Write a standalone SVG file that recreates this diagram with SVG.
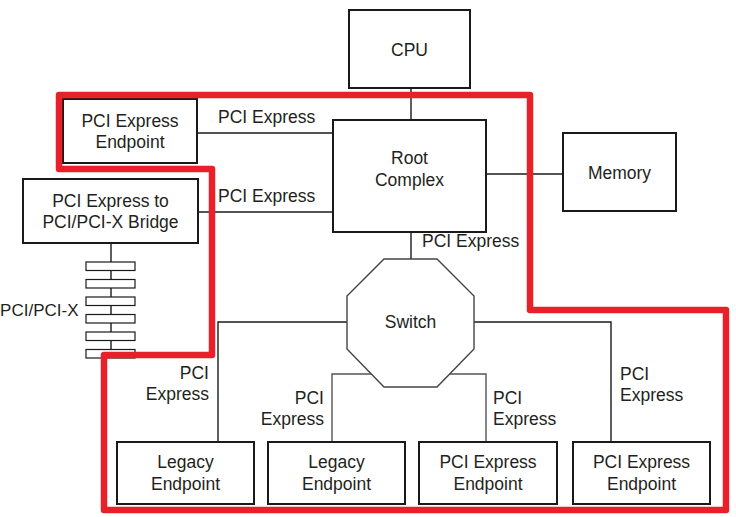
<svg xmlns="http://www.w3.org/2000/svg" width="736" height="517" viewBox="0 0 736 517">
<style>
.box{fill:#fff;stroke:#1a1a1a;stroke-width:2}
.ln{fill:none;stroke:#1a1a1a;stroke-width:1.4}
.gl{fill:none;stroke:#555;stroke-width:1.4}
text{font-family:"Liberation Sans",Arial,sans-serif;font-size:17.5px;fill:#231f20}
.c{text-anchor:middle}
.e{text-anchor:end}
.bus{fill:#fff;stroke:#1a1a1a;stroke-width:1.2}
</style>
<rect width="736" height="517" fill="#fff"/>
<g id="connectors">
<line class="ln" x1="411" y1="88" x2="411" y2="120"/>
<line class="ln" x1="197" y1="133" x2="333" y2="133"/>
<line class="ln" x1="198" y1="212" x2="333" y2="212"/>
<line class="ln" x1="486" y1="174" x2="563" y2="174"/>
<line class="ln" x1="411" y1="232" x2="411" y2="259"/>
<polyline class="ln" points="347,322 218,322 218,442"/>
<polyline class="ln" points="474,322 611,322 611,442"/>
<polyline class="gl" points="371,374 332,374 332,442"/>
<polyline class="gl" points="450,374 486,374 486,442"/>
<line class="ln" x1="111" y1="243" x2="111" y2="358"/>
<text x="218" y="123">PCI Express</text>
<text x="218" y="202">PCI Express</text>
<text x="422" y="247">PCI Express</text>
<text class="e" x="209" y="379">PCI</text>
<text class="e" x="209" y="400">Express</text>
<text class="e" x="324" y="404">PCI</text>
<text class="e" x="324" y="425">Express</text>
<text x="493" y="404">PCI</text>
<text x="493" y="425">Express</text>
<text x="620" y="380">PCI</text>
<text x="620" y="401">Express</text>
</g>
<g id="bus">
<rect class="bus" x="86" y="262" width="49" height="8.5"/>
<rect class="bus" x="86" y="279.5" width="49" height="8.5"/>
<rect class="bus" x="86" y="297" width="49" height="8.5"/>
<rect class="bus" x="86" y="314.5" width="49" height="8.5"/>
<rect class="bus" x="86" y="332" width="49" height="8.5"/>
<rect class="bus" x="86" y="349.5" width="49" height="8.5"/>
<text class="e" x="78.5" y="316" style="font-size:17px">PCI/PCI-X</text>
</g>
<g id="cpu"><rect class="box" x="349" y="10" width="121" height="78"/><text class="c" x="409.5" y="56">CPU</text></g>
<g id="root-complex"><rect class="box" x="333" y="120" width="153" height="112"/><text class="c" x="409.5" y="164">Root</text><text class="c" x="409.5" y="186">Complex</text></g>
<g id="memory"><rect class="box" x="563" y="133" width="113" height="78"/><text class="c" x="619.5" y="179">Memory</text></g>
<g id="endpoint-top"><rect class="box" x="63" y="99" width="134" height="64"/><text class="c" x="130" y="127">PCI Express</text><text class="c" x="130" y="148">Endpoint</text></g>
<g id="bridge"><rect class="box" x="23" y="179" width="175" height="64"/><text class="c" x="110.5" y="207">PCI Express to</text><text class="c" x="110.5" y="228">PCI/PCI-X Bridge</text></g>
<g id="switch"><polygon fill="#fff" stroke="#444" stroke-width="1.4" points="384,259 437,259 474,296 474,349 437,387 384,387 347,349 347,296"/><text class="c" x="410.5" y="328">Switch</text></g>
<g id="legacy1"><rect class="box" x="117" y="442" width="137" height="62"/><text class="c" x="185.5" y="468">Legacy</text><text class="c" x="185.5" y="490">Endpoint</text></g>
<g id="legacy2"><rect class="box" x="268" y="442" width="137" height="62"/><text class="c" x="336.5" y="468">Legacy</text><text class="c" x="336.5" y="490">Endpoint</text></g>
<g id="endpoint3"><rect class="box" x="419" y="442" width="138" height="62"/><text class="c" x="488" y="468">PCI Express</text><text class="c" x="488" y="490">Endpoint</text></g>
<g id="endpoint4"><rect class="box" x="573" y="442" width="137" height="62"/><text class="c" x="641.5" y="468">PCI Express</text><text class="c" x="641.5" y="490">Endpoint</text></g>
<g id="boundary"><path d="M59,95 L530,95 L530,310 L726,310 L726,510 L104,510 L104,355 L212,355 L212,169 L59,169 Z" fill="none" stroke="#e8202a" stroke-width="6.5" stroke-linejoin="round"/></g>
</svg>
